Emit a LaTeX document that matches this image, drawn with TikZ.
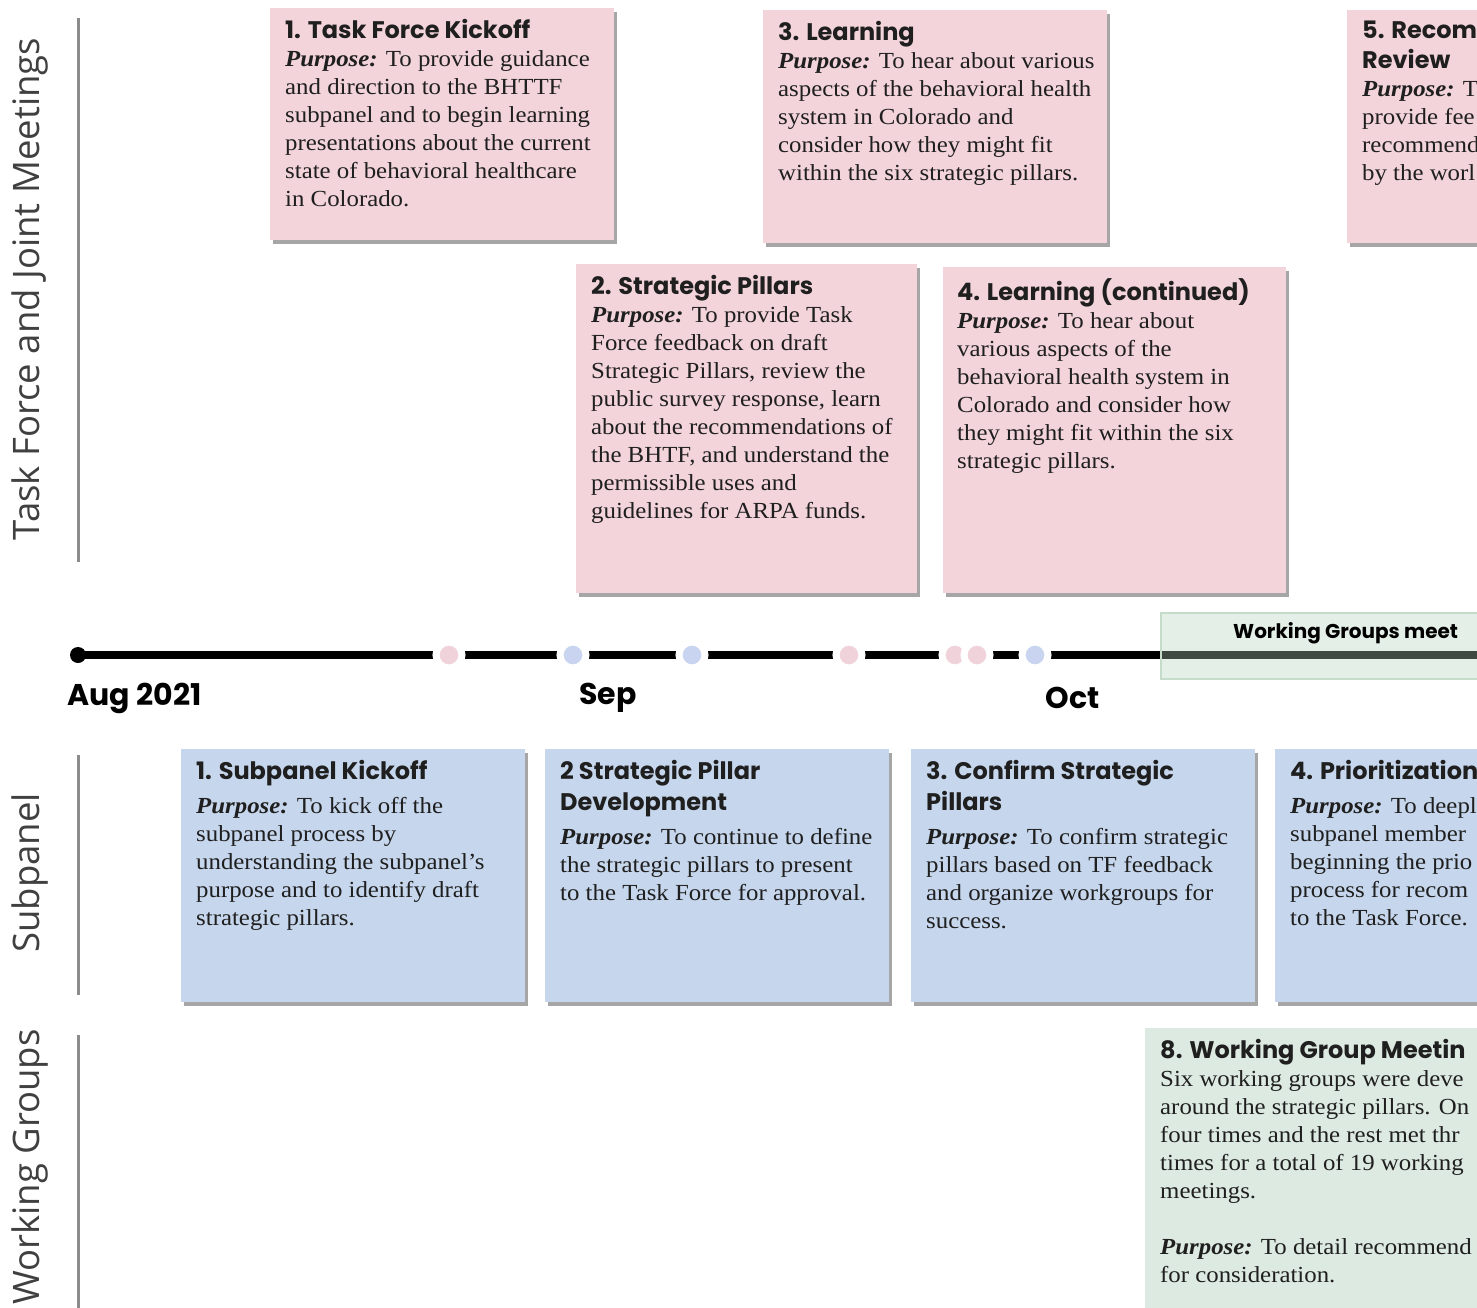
\documentclass[tikz,border=0pt]{standalone}
\usepackage{fontspec}
\setmainfont{Liberation Serif}[FakeStretch=1.08]
\newfontfamily\tfont{Poppins}
\newfontfamily\lfont{Open Sans}
\usetikzlibrary{shadows}
\definecolor{tfpink}{HTML}{F2D4DA}
\definecolor{spblue}{HTML}{C6D6EC}
\definecolor{wggreen}{HTML}{DDEAE1}
\definecolor{dotpink}{HTML}{F0D2DA}
\definecolor{dotblue}{HTML}{C9D5F0}
\definecolor{bandgreen}{HTML}{B2D4BD}
\definecolor{bandedge}{HTML}{C5DCCB}
\newcommand\ttl[1]{{\tfont\bfseries\fontsize{24}{28}\selectfont #1}}
\newcommand\purp{\textbf{\textit{Purpose:}}}
\tikzset{
  card/.style={rectangle, inner sep=0, anchor=north west,
    drop shadow={shadow xshift=3pt, shadow yshift=-4pt, fill=black, opacity=0.35}},
  tfcard/.style={card, fill=tfpink},
  spcard/.style={card, fill=spblue},
  wgcard/.style={card, fill=wggreen},
  body/.style={anchor=north west, inner sep=0, align=left,
    font=\fontsize{23}{28}\selectfont, text=black!88},
  lane/.style={rotate=90, font=\lfont\fontsize{36.5}{40}\selectfont, text=black!75},
  sep/.style={draw=black!45, line width=3pt},
  month/.style={anchor=west, font=\tfont\bfseries\fontsize{30}{34}\selectfont},
  gapdot/.style={circle, draw=white, line width=7pt, minimum size=26pt, inner sep=0},
  pdot/.style={gapdot, fill=dotpink},
  bdot/.style={gapdot, fill=dotblue},
}
\begin{document}
\begin{tikzpicture}[x=1pt, y=-1pt]
\useasboundingbox (0,0) rectangle (1477,1308);
\clip (0,0) rectangle (1477,1308);
\fill[white] (0,0) rectangle (1477,1308);

% lane labels and separators
\node[lane] (l1) at (30,289) {Task Force and Joint Meetings};
\node[lane] (l2) at (30,873) {Subpanel};
\node[lane] (l3) at (30,1167) {Working Groups};
\coordinate (s1a) at (78,18);   \coordinate (s1b) at (78,562);
\coordinate (s2a) at (78,755);  \coordinate (s2b) at (78,995);
\coordinate (s3a) at (78,1035); \coordinate (s3b) at (78,1308);
\draw[sep] (s1a) -- (s1b);
\draw[sep] (s2a) -- (s2b);
\draw[sep] (s3a) -- (s3b);

% Task force cards
\node[tfcard, minimum width=344pt, minimum height=232pt] (tf1) at (270,8) {};
\node[body] (tf1t) at ([shift={(15,11)}]tf1.north west) {\ttl{1. Task Force Kickoff}\\
\purp{} To provide guidance\\
and direction to the BHTTF\\
subpanel and to begin learning\\
presentations about the current\\
state of behavioral healthcare\\
in Colorado.};

\node[tfcard, minimum width=344pt, minimum height=233pt] (tf3) at (763,10) {};
\node[body] (tf3t) at ([shift={(15,11)}]tf3.north west) {\ttl{3. Learning}\\
\purp{} To hear about various\\
aspects of the behavioral health\\
system in Colorado and\\
consider how they might fit\\
within the six strategic pillars.};

\node[tfcard, minimum width=344pt, minimum height=233pt] (tf5) at (1347,10) {};
\node[body] (tf5t) at ([shift={(15,11)}]tf5.north west) {\ttl{5. Recom}\\[2pt]
\ttl{Review}\\
\purp{} To\\
provide fee\\
recommend\\
by the worl};

\node[tfcard, minimum width=341pt, minimum height=329pt] (tf2) at (576,264) {};
\node[body] (tf2t) at ([shift={(15,11)}]tf2.north west) {\ttl{2. Strategic Pillars}\\
\purp{} To provide Task\\
Force feedback on draft\\
Strategic Pillars, review the\\
public survey response, learn\\
about the recommendations of\\
the BHTF, and understand the\\
permissible uses and\\
guidelines for ARPA funds.};

\node[tfcard, minimum width=343pt, minimum height=326pt] (tf4) at (943,267) {};
\node[body] (tf4t) at ([shift={(14,11)}]tf4.north west) {\ttl{4. Learning (continued)}\\
\purp{} To hear about\\
various aspects of the\\
behavioral health system in\\
Colorado and consider how\\
they might fit within the six\\
strategic pillars.};

% timeline
\coordinate (t0) at (78,655);
\coordinate (t1) at (1477,655);
\draw[line width=8pt] (t0) -- (t1);
\fill (t0) circle (8pt);
\node[pdot] (d1) at (449,655) {};
\node[bdot] (d2) at (573,655) {};
\node[bdot] (d3) at (692,655) {};
\node[pdot] (d4) at (849,655) {};
\node[pdot] (d5) at (955,655) {};
\node[pdot] (d6) at (977,655) {};
\node[bdot] (d7) at (1035,655) {};
\node[rectangle, anchor=north west, minimum width=340pt, minimum height=66pt,
      fill=bandgreen, fill opacity=0.35, draw=bandedge, line width=2pt] (band) at (1160,612) {};
\node[anchor=west, inner sep=0, font=\tfont\bfseries\fontsize{20}{24}\selectfont] (bandt) at (1233,633) {Working Groups meet};
\node[month] (m1) at (64,698) {Aug 2021};
\node[month] (m2) at (576,698) {Sep};
\node[month] (m3) at (1042,698) {Oct};

% Subpanel cards
\node[spcard, minimum width=344pt, minimum height=253pt] (sp1) at (181,749) {};
\node[body] (sp1t) at ([shift={(15,11)}]sp1.north west) {\ttl{1. Subpanel Kickoff}\\[6pt]
\purp{} To kick off the\\
subpanel process by\\
understanding the subpanel's\\
purpose and to identify draft\\
strategic pillars.};

\node[spcard, minimum width=344pt, minimum height=253pt] (sp2) at (545,749) {};
\node[body] (sp2t) at ([shift={(15,11)}]sp2.north west) {\ttl{2 Strategic Pillar}\\[3pt]
\ttl{Development}\\[6pt]
\purp{} To continue to define\\
the strategic pillars to present\\
to the Task Force for approval.};

\node[spcard, minimum width=344pt, minimum height=253pt] (sp3) at (911,749) {};
\node[body] (sp3t) at ([shift={(15,11)}]sp3.north west) {\ttl{3. Confirm Strategic}\\[3pt]
\ttl{Pillars}\\[6pt]
\purp{} To confirm strategic\\
pillars based on TF feedback\\
and organize workgroups for\\
success.};

\node[spcard, minimum width=344pt, minimum height=253pt] (sp4) at (1275,749) {};
\node[body] (sp4t) at ([shift={(15,11)}]sp4.north west) {\ttl{4. Prioritization}\\[6pt]
\purp{} To deepl\\
subpanel member\\
beginning the prio\\
process for recom\\
to the Task Force.};

% Working group card
\node[wgcard, minimum width=344pt, minimum height=300pt] (wg8) at (1145,1028) {};
\node[body] (wg8t) at ([shift={(15,11)}]wg8.north west) {\ttl{8. Working Group Meetin}\\
Six working groups were deve\\
around the strategic pillars. On\\
four times and the rest met thr\\
times for a total of 19 working\\
meetings.\\[28pt]
\purp{} To detail recommend\\
for consideration.};
\end{tikzpicture}
\end{document}
